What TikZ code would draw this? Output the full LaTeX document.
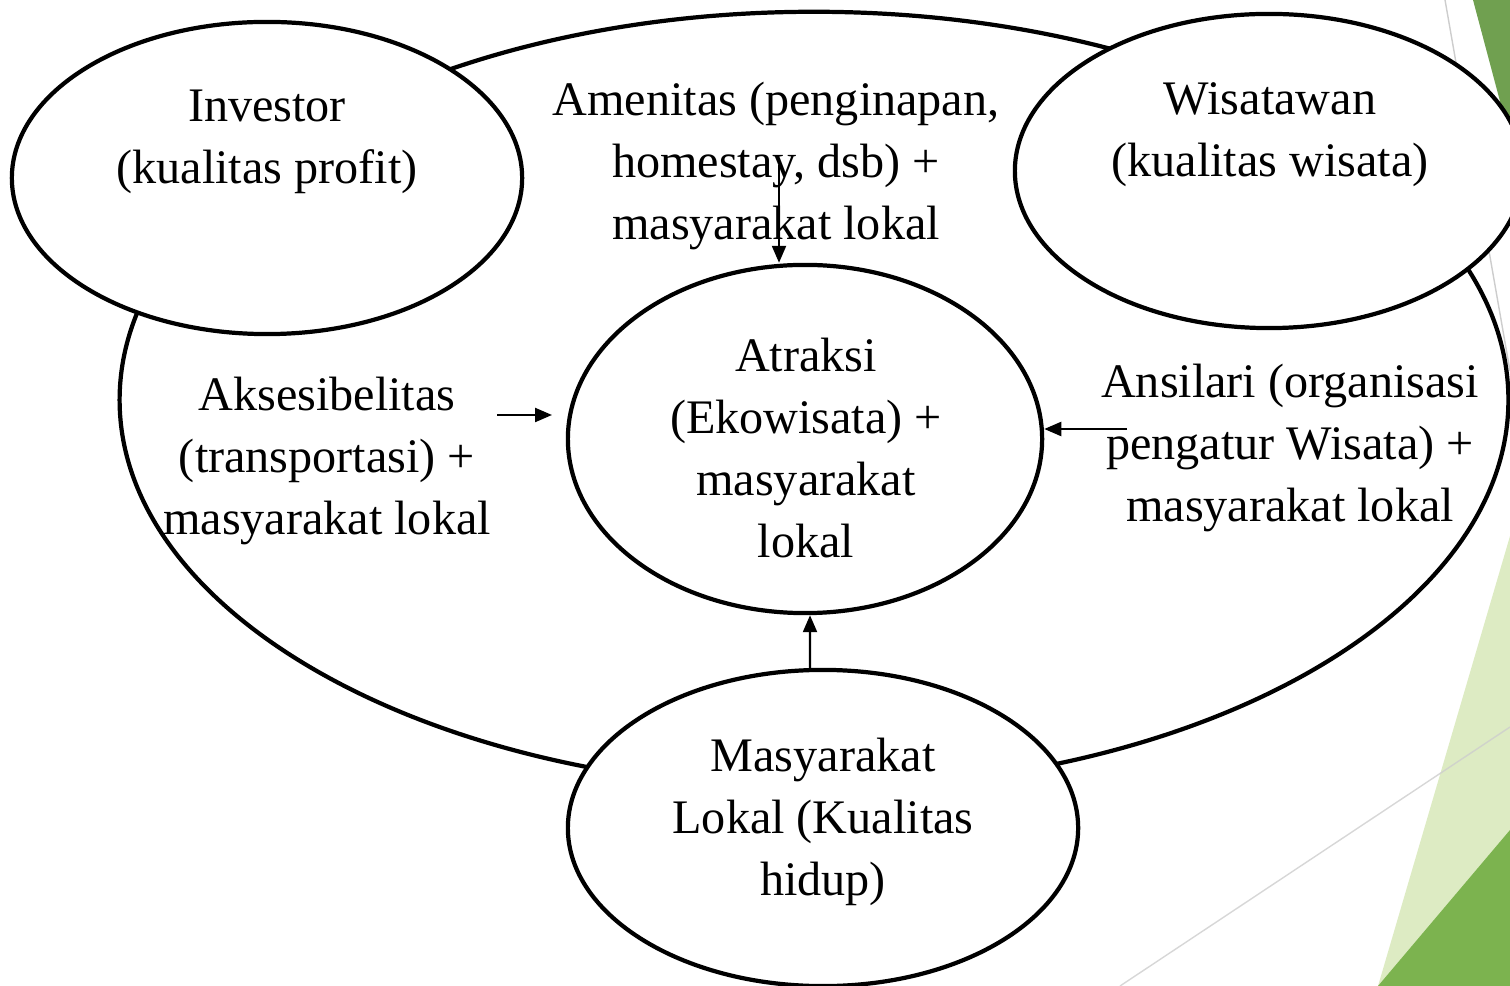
\documentclass[tikz,border=0pt]{standalone}
\usepackage{fontspec}
\setmainfont{Liberation Serif}
\usetikzlibrary{shapes.geometric,arrows.meta}
\definecolor{leafdark}{RGB}{112,160,80}
\definecolor{leaf}{RGB}{124,179,79}
\definecolor{leaflight}{RGB}{221,235,195}
\definecolor{rulegrey}{RGB}{205,205,205}
\tikzset{
  bubble/.style={ellipse,draw,line width=1.2pt,fill=white,inner sep=0pt},
  words/.style={align=center,font=\fontsize{13.7}{17.6}\selectfont,inner sep=0pt},
  arr/.style={line width=0.65pt,-{Triangle[length=0.17cm,width=0.14cm]}}
}

\begin{document}
\begin{tikzpicture}[x=0.01cm,y=-0.01cm]
            \useasboundingbox (0,0) rectangle (1510,986);
            \clip (0,0) rectangle (1510,986);
            \fill[leafdark] (1473,0) -- (1510,0) -- (1510,139) -- cycle;
            \fill[leaflight] (1378,986) -- (1510,536) -- (1510,986) -- cycle;
            \fill[leaf] (1378,986) -- (1510,830) -- (1510,986) -- cycle;
            \draw[rulegrey] (1445,0) -- (1510,371);
            \draw[rulegrey,opacity=0.8] (1120,986) -- (1510,727);
            \node[bubble,minimum width=13.88cm,minimum height=7.76cm] (ring) at (814,400) {};
            \node[bubble,minimum width=5.1cm,minimum height=3.12cm] (investor) at (267,178) {};
            \node[bubble,minimum width=5.08cm,minimum height=3.14cm] (wisatawan) at (1269,171) {};
            \node[bubble,minimum width=4.74cm,minimum height=3.48cm] (atraksi) at (805,439) {};
            \node[bubble,minimum width=5.1cm,minimum height=3.16cm] (masy) at (823,828) {};
            \node[words] (investor-txt) at (267,142) {Investor\\(kualitas profit)};
            \node[words] (wisatawan-txt) at (1270,135) {Wisatawan\\(kualitas wisata)};
            \node[words] (amenitas-txt) at (776,166) {Amenitas (penginapan,\\homestay, dsb) +\\masyarakat lokal};
            \node[words] (atraksi-txt) at (806,448) {Atraksi\\(Ekowisata) +\\masyarakat\\lokal};
            \node[words] (akses-txt) at (327,461) {Aksesibelitas\\(transportasi) +\\masyarakat lokal};
            \node[words] (ansilari-txt) at (1290,448) {Ansilari (organisasi\\pengatur Wisata) +\\masyarakat lokal};
            \node[words] (masy-txt) at (823,822) {Masyarakat\\Lokal (Kualitas\\hidup)};
            \coordinate (amen-out) at (779,165);
            \coordinate (akses-out) at (497,415);
            \coordinate (akses-tip) at (552,415);
            \coordinate (ansi-out) at (1127,429);
            \draw[arr] (amen-out) -- (amen-out |- atraksi.north);
            \draw[arr] (akses-out) -- (akses-tip);
            \draw[arr] (ansi-out) -- (ansi-out -| atraksi.east);
            \draw[arr] ([xshift=-0.13cm]masy.north) -- ([xshift=0.05cm]atraksi.south);
        \end{tikzpicture}
\end{document}
